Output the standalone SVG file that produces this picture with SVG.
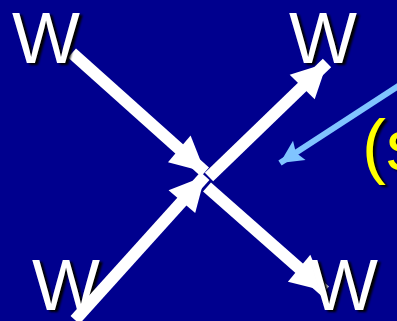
<svg xmlns="http://www.w3.org/2000/svg" width="397" height="321" viewBox="0 0 397 321">
  <defs>
    <filter id="sh" x="-20%" y="-20%" width="140%" height="140%">
      <feGaussianBlur stdDeviation="1"/>
    </filter>
    <marker id="wh" markerUnits="userSpaceOnUse" markerWidth="40" markerHeight="40" viewBox="-36 -20 40 40" refX="0" refY="0" orient="auto">
      <path d="M0,0 L-35,-17.5 L-34,17.5 Z" fill="#ffffff"/>
    </marker>
    <marker id="bh" markerUnits="userSpaceOnUse" markerWidth="28" markerHeight="28" viewBox="-26 -14 28 28" refX="0" refY="0" orient="auto">
      <path d="M0,0 L-23,-11.5 L-19,0 L-23,11.5 Z" fill="#80c4ff"/>
    </marker>
  </defs>
  <style>
    .w { font-family: "Liberation Sans", Arial, sans-serif; font-size: 72px; fill: #ffffff; }
    .y { font-family: "Liberation Sans", Arial, sans-serif; font-size: 72px; fill: #ffff00; }
    .s { fill: #000000; filter: url(#sh); }
    .arr { stroke: #ffffff; stroke-width: 12; fill: none; marker-end: url(#wh); }
    .barr { stroke: #80c4ff; stroke-width: 6; fill: none; marker-end: url(#bh); }
  </style>
  <rect width="397" height="321" fill="#00008e"/>

  <g id="w-bottom-left">
    <text class="w s" x="35" y="312">W</text>
    <text class="w" x="32" y="310">W</text>
  </g>

  <g id="connectors">
    <line class="arr" x1="72" y1="53" x2="205" y2="172"/>
    <line class="arr" x1="75" y1="320" x2="205" y2="176"/>
    <line class="arr" x1="209" y1="177" x2="327" y2="63"/>
    <line class="arr" x1="207" y1="187" x2="325" y2="291"/>
    <line class="barr" x1="400" y1="85" x2="280" y2="163"/>
  </g>

  <g id="w-top-left">
    <text class="w s" x="15" y="65">W</text>
    <text class="w" x="12" y="63">W</text>
  </g>
  <g id="w-top-right">
    <text class="w s" x="292" y="65">W</text>
    <text class="w" x="289" y="63">W</text>
  </g>
  <g id="w-bottom-right">
    <text class="w s" x="313" y="312">W</text>
    <text class="w" x="310" y="310">W</text>
  </g>
  <g id="label-s">
    <text class="y s" x="365" y="172">(s</text>
    <text class="y" x="362" y="170">(s</text>
  </g>
</svg>
